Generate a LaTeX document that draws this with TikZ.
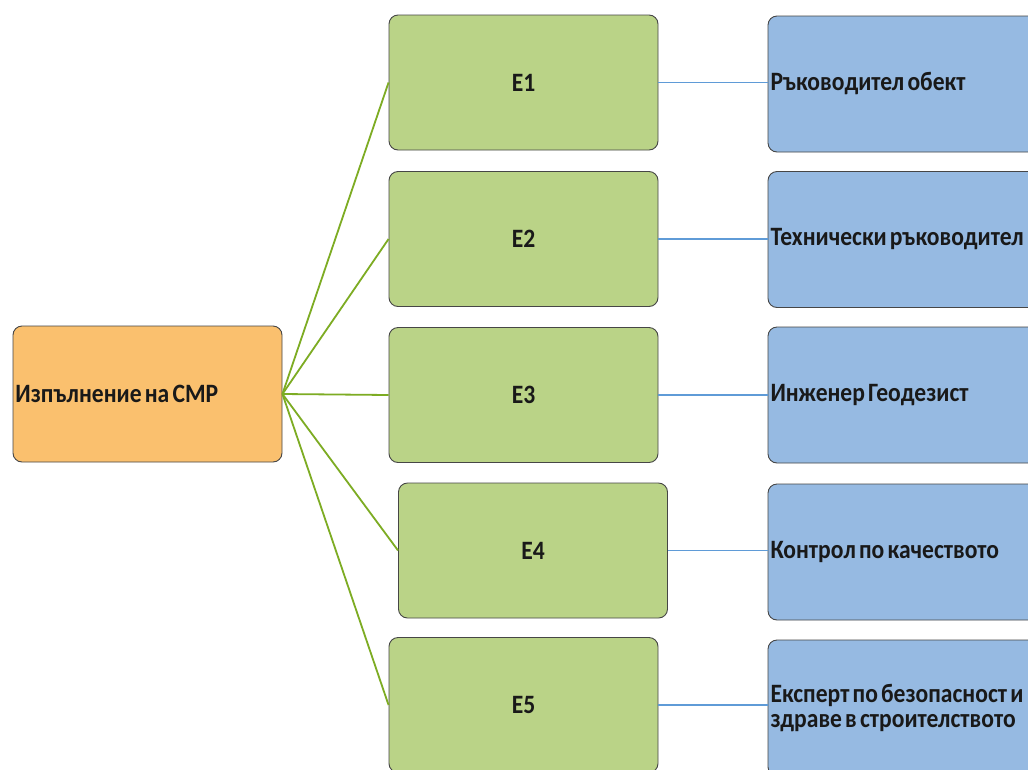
\documentclass[tikz,border=0pt]{standalone}
\usepackage{fontspec}
\setmainfont{Carlito}[FakeStretch=0.89]
\newcommand\diagboxfont{\fontsize{26.5}{25}\selectfont\bfseries}
\definecolor{orangefill}{RGB}{250,192,110}
\definecolor{greenfill}{RGB}{186,211,135}
\definecolor{bluefill}{RGB}{150,186,226}
\definecolor{greenline}{RGB}{125,172,35}
\definecolor{blueline}{RGB}{95,155,215}
\definecolor{boxline}{RGB}{70,70,70}
\definecolor{textcol}{RGB}{25,25,25}
\tikzset{
  basebox/.style={draw=boxline, line width=0.9pt, rounded corners=9pt, inner sep=0pt, text=textcol, font=\diagboxfont,
    execute at begin node={\spaceskip=3.2pt plus 1pt\relax}},
  rootbox/.style={basebox, fill=orangefill, minimum width=269pt, minimum height=136pt, text width=264pt, align=left},
  midbox/.style={basebox, fill=greenfill, minimum width=269pt, minimum height=135pt, align=center},
  rolebox/.style={basebox, fill=bluefill, minimum width=272pt, minimum height=136pt, text width=267pt, align=left},
  gline/.style={draw=greenline, line width=1.8pt},
  bline/.style={draw=blueline, line width=1.8pt}
}
\begin{document}
\begin{tikzpicture}[x=1pt,y=-1pt]
\useasboundingbox (0,0) rectangle (1028,769);
\clip (0,0) rectangle (1028,769);
\fill[white] (0,0) rectangle (1028,769);
\node[rootbox] (root) at (147.5,394) {Изпълнение на СМР};
\node[midbox] (e1) at (523.5,82.5) {E1};
\node[midbox] (e2) at (523.5,239) {E2};
\node[midbox] (e3) at (523.5,395) {E3};
\node[midbox] (e4) at (533,550.5) {E4};
\node[midbox] (e5) at (523.5,705) {E5};
\node[rolebox] (r1) at (904,84) {Ръководител обект};
\node[rolebox] (r2) at (904,239.5) {Технически ръководител};
\node[rolebox] (r3) at (904,395) {Инженер Геодезист};
\node[rolebox] (r4) at (904,552) {Контрол по качеството};
\node[rolebox] (r5) at (904,708) {Експерт по безопасност и\\здраве в строителството};
\foreach \i in {1,...,5} {
  \draw[gline] (root.east) -- (e\i.west);
  \draw[bline] (e\i.east) -- (e\i.east -| r\i.west);
}
\end{tikzpicture}
\end{document}
